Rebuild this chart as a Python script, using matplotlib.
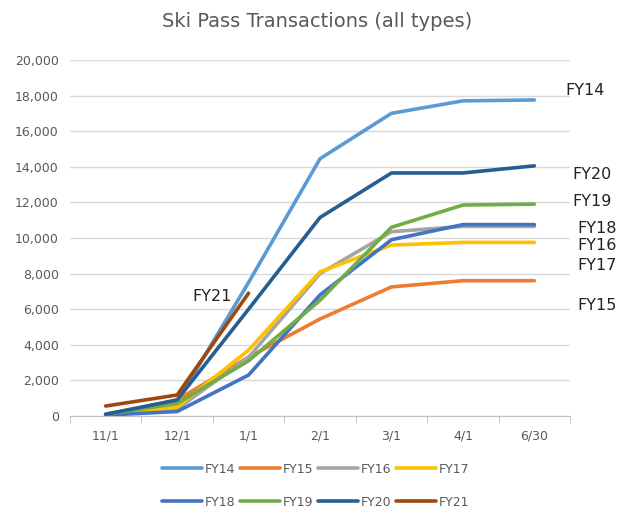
import numpy as np
import matplotlib
matplotlib.use('Agg')
import matplotlib.pyplot as plt

# ---- data ----
dates = ['11/1', '12/1', '1/1', '2/1', '3/1', '4/1', '6/30']
series_names = ['FY14', 'FY15', 'FY16', 'FY17', 'FY18', 'FY19', 'FY20', 'FY21']

fy14 = [100, 800, 7500, 14450, 17000, 17700, 17750]
fy15 = [50, 900, 3300, 5450, 7250, 7600, 7600]
fy16 = [50, 400, 3300, 8000, 10350, 10650, 10650]
fy17 = [50, 500, 3700, 8100, 9600, 9750, 9750]
fy18 = [50, 250, 2300, 6800, 9900, 10750, 10750]
fy19 = [100, 700, 3100, 6500, 10600, 11850, 11900]
fy20 = [100, 900, 6000, 11150, 13650, 13650, 14050]
fy21 = [560, 1180, 6900]

all_values = [fy14, fy15, fy16, fy17, fy18, fy19, fy20, fy21]

colors = ['#5B9BD5', '#ED7D31', '#A5A5A5', '#FFC000',
          '#4472C4', '#70AD47', '#255E91', '#9E480E']

# end labels: (name, x position in category units, y value)
label_names = ['FY14', 'FY20', 'FY19', 'FY18', 'FY16', 'FY17', 'FY15', 'FY21']
label_x = [6.43, 6.53, 6.53, 6.6, 6.6, 6.6, 6.6, 1.22]
label_y = [18300, 13550, 12050, 10550, 9550, 8450, 6200, 6700]

# ---- figure ----
fig = plt.figure(figsize=(6.19, 5.12), dpi=100)
ax = fig.add_axes([0.113, 0.1875, 0.808, 0.6955])

lines = []
for name, vals, c in zip(series_names, all_values, colors):
    ln, = ax.plot(range(len(vals)), vals, color=c, lw=2.6, label=name,
                  solid_capstyle='round', solid_joinstyle='round')
    lines.append(ln)

for name, x, y in zip(label_names, label_x, label_y):
    ax.text(x, y, name, fontsize=11.5, color='#222222', ha='left', va='center')

ax.set_xlim(-0.5, 6.5)
ax.set_ylim(0, 20000)
ax.set_yticks(np.arange(0, 20001, 2000))
ax.set_yticklabels([f'{v:,}' for v in range(0, 20001, 2000)])
ax.set_xticks(range(len(dates)))
ax.set_xticklabels(dates)
ax.set_xticks(np.arange(-0.5, 7, 1), minor=True)

ax.grid(axis='y', color='#D9D9D9', lw=1)
ax.set_axisbelow(True)
for s in ['top', 'right', 'left']:
    ax.spines[s].set_visible(False)
ax.spines['bottom'].set_color('#BFBFBF')
ax.tick_params(axis='y', length=0, labelsize=9, colors='#595959', pad=8)
ax.tick_params(axis='x', which='major', length=0, labelsize=9,
               colors='#595959', pad=10)
ax.tick_params(axis='x', which='minor', length=5, color='#BFBFBF')

fig.text(0.513, 0.958, 'Ski Pass Transactions (all types)', ha='center',
         va='center', fontsize=14, color='#595959')

# legend filled row by row (matplotlib fills by column)
order = [0, 4, 1, 5, 2, 6, 3, 7]
leg = fig.legend([lines[i] for i in order], [series_names[i] for i in order],
                 loc='upper center', bbox_to_anchor=(0.51, 0.118), ncol=4,
                 frameon=False, fontsize=9, handlelength=3.2,
                 handletextpad=0.2, columnspacing=0.4, labelspacing=1.6)
for t in leg.get_texts():
    t.set_color('#595959')

fig.savefig('out.png', dpi=100)
